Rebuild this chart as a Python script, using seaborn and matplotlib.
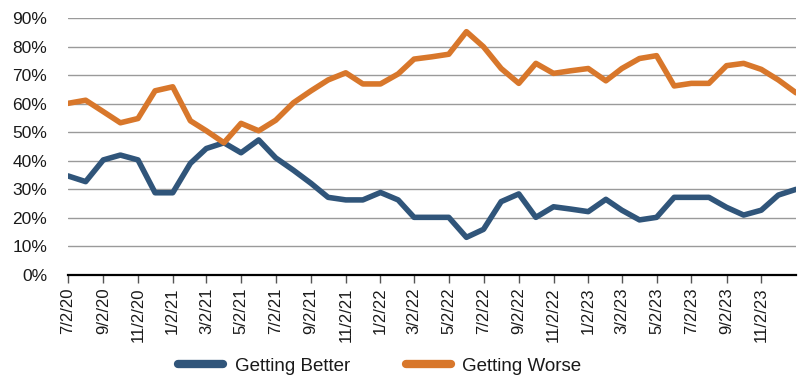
import pandas as pd
import numpy as np
import matplotlib
matplotlib.use("Agg")
import matplotlib.pyplot as plt
import seaborn as sns

# monthly survey readings, 7/2/20 .. 1/2/24 (percent)
dates = pd.date_range("2020-07-01", periods=43, freq="MS") + pd.Timedelta(days=1)
getting_better = [34.7, 32.7, 40.3, 42.0, 40.3, 28.8, 28.8, 39.1, 44.3, 46.3,
                  42.8, 47.3, 41.0, 36.7, 32.1, 27.2, 26.3, 26.3, 28.9, 26.3,
                  20.2, 20.2, 20.2, 13.2, 16.0, 25.7, 28.4, 20.2, 23.9, 23.1,
                  22.2, 26.5, 22.7, 19.3, 20.2, 27.2, 27.2, 27.2, 23.7, 21.0,
                  22.7, 28.0, 30.0]
getting_worse = [60.1, 61.2, 57.2, 53.3, 54.8, 64.5, 65.9, 54.0, 50.5, 46.3,
                 53.1, 50.5, 54.2, 60.3, 64.5, 68.3, 70.8, 66.9, 66.9, 70.4,
                 75.6, 76.4, 77.3, 85.2, 79.9, 72.3, 67.1, 74.1, 70.6, 71.5,
                 72.3, 68.0, 72.3, 75.8, 76.8, 66.2, 67.1, 67.1, 73.3, 74.1,
                 72.0, 68.3, 63.8]
series_names = ["Getting Better", "Getting Worse"]
colors = ["#30557a", "#d8772b"]

df = pd.DataFrame({"date": dates, series_names[0]: getting_better,
                   series_names[1]: getting_worse})
long = df.melt(id_vars="date", var_name="series", value_name="pct")

sns.set_style("white")
plt.rcParams["font.family"] = ["Liberation Sans", "DejaVu Sans"]
plt.rcParams["text.color"] = "#1a1a1a"

fig = plt.figure(figsize=(8, 3.82), dpi=100)
ax = fig.add_axes([0.085, 0.28, 0.91, 0.673])

sns.lineplot(data=long, x="date", y="pct", hue="series", palette=colors,
             linewidth=4, ax=ax, legend=False)

ax.set_ylim(0, 90)
ax.set_yticks(range(0, 91, 10))
ax.set_yticklabels([f"{v}%" for v in range(0, 91, 10)], fontsize=12.5,
                   color="#1a1a1a")
ax.set_xlim(dates[0], dates[-1])
tick_dates = dates[::2][:-1]
ax.set_xticks(tick_dates)
ax.set_xticklabels([f"{d.month}/{d.day}/{d.year % 100}" for d in tick_dates],
                   rotation=90, fontsize=12, color="#1a1a1a")
ax.set_xlabel("")
ax.set_ylabel("")

ax.grid(axis="y", color="#9a9a9a", linewidth=1)
ax.set_axisbelow(True)
for s in ["top", "right", "left"]:
    ax.spines[s].set_visible(False)
ax.spines["bottom"].set_color("black")
ax.spines["bottom"].set_linewidth(1.6)
ax.tick_params(axis="x", bottom=True, direction="out", length=6, width=1,
               color="#555555", pad=3)
ax.tick_params(axis="y", left=False, length=0, pad=15)

handles = [plt.Line2D([0], [0], color=c, linewidth=6, solid_capstyle="round")
           for c in colors]
fig.legend(handles, series_names, loc="lower center", ncol=2, frameon=False,
           bbox_to_anchor=(0.475, -0.025), fontsize=13.5, handlelength=2.4,
           columnspacing=3.0, handletextpad=0.6)

fig.savefig("out.png", dpi=100)
